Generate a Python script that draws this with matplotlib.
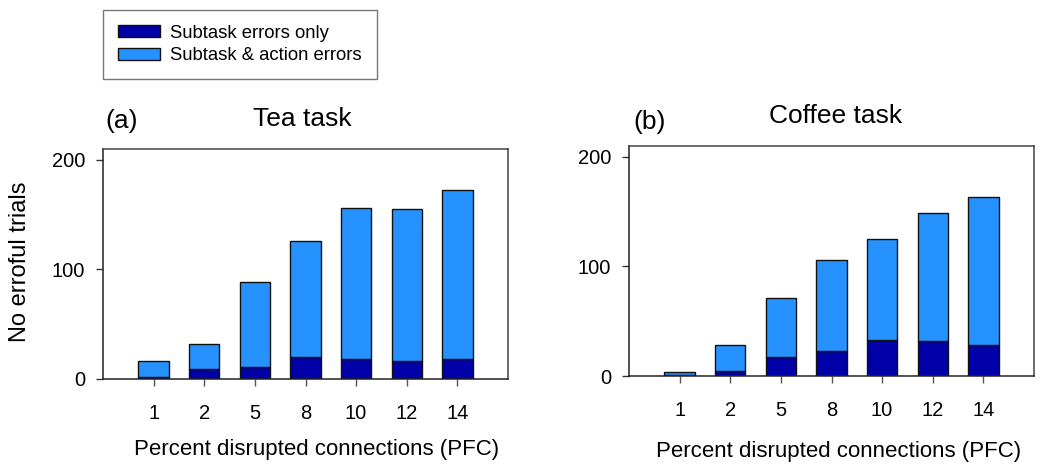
import matplotlib
matplotlib.use("Agg")
import matplotlib.pyplot as plt
from matplotlib.patches import Patch

plt.rcParams['font.family'] = ['Liberation Sans', 'DejaVu Sans']

# Percent of disrupted PFC connections
pfc_levels = ["1", "2", "5", "8", "10", "12", "14"]

# Tea task: trials with subtask errors only, and total erroful trials
tea_subtask_only = [2, 9, 11, 20, 18, 16, 18]
tea_total = [16, 32, 89, 126, 156, 155, 173]

# Coffee task
coffee_subtask_only = [1, 5, 17, 23, 33, 32, 28]
coffee_total = [4, 28, 71, 106, 125, 149, 163]

dark_blue = "#0000A8"
light_blue = "#2692FF"
edge = "#111111"

fig = plt.figure(figsize=(10.4, 4.68), dpi=100)
W, H = 1040, 468


def axes_px(x0, x1, ytop, ybot):
    return fig.add_axes([x0 / W, 1 - ybot / H, (x1 - x0) / W, (ybot - ytop) / H])


ax_tea = axes_px(103, 508, 149, 379)
ax_cof = axes_px(629, 1034, 146, 376)


def draw_panel(ax, subtask_only, total):
    x = list(range(len(pfc_levels)))
    action = [t - s for t, s in zip(total, subtask_only)]
    ax.bar(x, subtask_only, width=0.6, color=dark_blue, edgecolor=edge, linewidth=1.0, zorder=2)
    ax.bar(x, action, width=0.6, bottom=subtask_only, color=light_blue,
           edgecolor=edge, linewidth=1.0, zorder=2)
    ax.set_xlim(-1, 7)
    ax.set_ylim(0, 210)
    ax.set_yticks([0, 100, 200])
    ax.set_xticks(x)
    ax.set_xticklabels(pfc_levels)
    ax.tick_params(axis='y', direction='out', length=5, width=1, pad=8, labelsize=14.5, color="#333333")
    ax.tick_params(axis='x', direction='out', length=5, width=1, pad=13, labelsize=14.5, color="#555555")
    for side in ['left', 'bottom']:
        ax.spines[side].set_color("#222222")
        ax.spines[side].set_linewidth(1.1)
    for side in ['top', 'right']:
        ax.spines[side].set_color("#444444")
        ax.spines[side].set_linewidth(1.1)
    ax.set_xlabel("Percent disrupted connections (PFC)", fontsize=16)


draw_panel(ax_tea, tea_subtask_only, tea_total)
draw_panel(ax_cof, coffee_subtask_only, coffee_total)

ax_tea.xaxis.set_label_coords((317 - 103) / 405, -(455 - 379) / 230)
ax_cof.xaxis.set_label_coords((839 - 629) / 405, -(457 - 376) / 230)
for ax in (ax_tea, ax_cof):
    ax.xaxis.label.set_va('baseline')

fig.text(20 / W, 1 - 262 / H, "No erroful trials", fontsize=17, rotation=90,
         ha='center', va='center')

# Panel titles and letters
fig.text(302 / W, 1 - 126 / H, "Tea task", fontsize=19, ha='center', va='baseline')
fig.text(122 / W, 1 - 128 / H, "(a)", fontsize=19, ha='center', va='baseline')
fig.text(836 / W, 1 - 123 / H, "Coffee task", fontsize=19, ha='center', va='baseline')
fig.text(650 / W, 1 - 129 / H, "(b)", fontsize=19, ha='center', va='baseline')

handles = [Patch(facecolor=dark_blue, edgecolor=edge, label="Subtask errors only"),
           Patch(facecolor=light_blue, edgecolor=edge, label="Subtask & action errors")]
leg = fig.legend(handles=handles, loc='upper left',
                 bbox_to_anchor=(103 / W, 1 - 10 / H), fontsize=13.3,
                 frameon=True, fancybox=False, edgecolor="#555555",
                 handlelength=2.3, handleheight=0.65, handletextpad=0.55,
                 borderpad=0.8, labelspacing=0.3, borderaxespad=0)
leg.get_frame().set_linewidth(1.0)

fig.savefig("out.png", dpi=100)
